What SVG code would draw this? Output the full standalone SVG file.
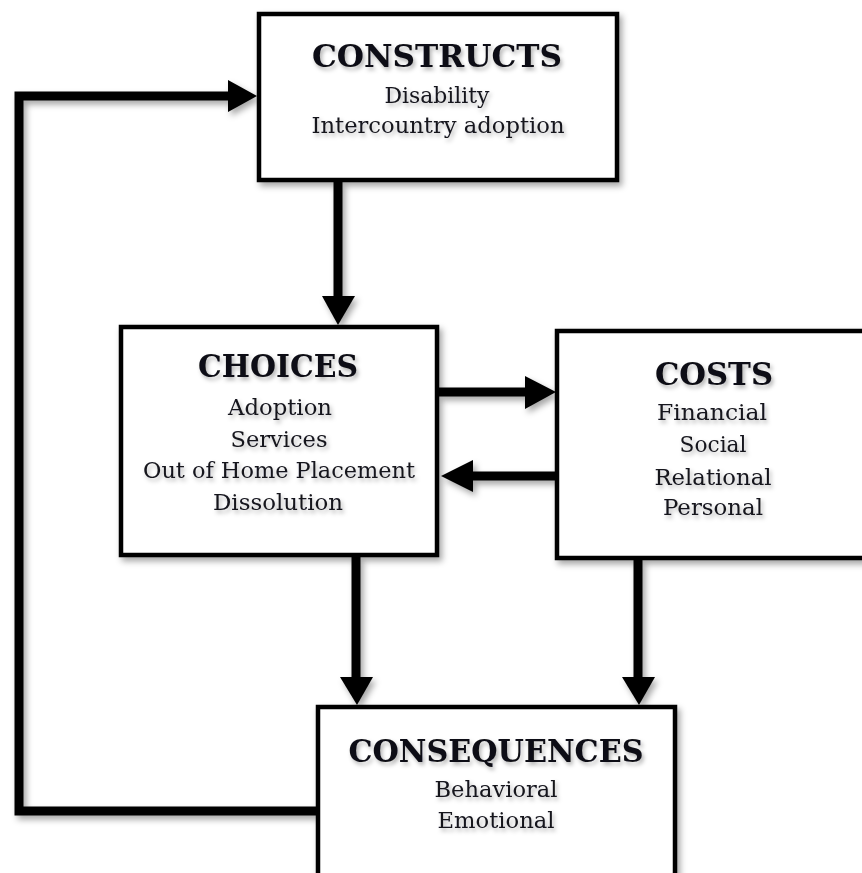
<svg xmlns="http://www.w3.org/2000/svg" width="862" height="873" viewBox="0 0 862 873">
  <style>
    .box { fill: #ffffff; stroke: #000000; stroke-width: 4.5; filter: url(#shadow); }
    .title { font-family: "DejaVu Serif", "Liberation Serif", serif; font-weight: bold; font-size: 31px; fill: #0d0d14; text-anchor: middle; filter: url(#tshadow); }
    .item { font-family: "DejaVu Serif", "Liberation Serif", serif; font-size: 22.5px; fill: #14141c; text-anchor: middle; filter: url(#tshadow); }
    .wire { fill: none; stroke: #000000; stroke-width: 9; stroke-linejoin: miter; }
    .head { fill: #000000; }
    #connectors { filter: url(#shadow); }
  </style>
  <defs>
    <filter id="shadow" x="-10%" y="-10%" width="130%" height="130%">
      <feDropShadow dx="3" dy="4" stdDeviation="3" flood-color="#000000" flood-opacity="0.35"/>
    </filter>
    <filter id="tshadow" x="-10%" y="-30%" width="130%" height="170%">
      <feDropShadow dx="2" dy="3" stdDeviation="2" flood-color="#000000" flood-opacity="0.3"/>
    </filter>
  </defs>

  <rect width="862" height="873" fill="#ffffff"/>

  <!-- connectors -->
  <g id="connectors">
    <!-- CONSTRUCTS to CHOICES -->
    <path class="wire" d="M338 182 V298"/>
    <polygon class="head" points="322,296 355,296 338,325"/>
    <!-- CHOICES to COSTS -->
    <path class="wire" d="M439 392 H527"/>
    <polygon class="head" points="525,376 525,409 556,392"/>
    <!-- COSTS to CHOICES -->
    <path class="wire" d="M555 476 H471"/>
    <polygon class="head" points="473,460 473,492 441,476"/>
    <!-- CHOICES to CONSEQUENCES -->
    <path class="wire" d="M356 557 V679"/>
    <polygon class="head" points="340,677 373,677 357,705"/>
    <!-- COSTS to CONSEQUENCES -->
    <path class="wire" d="M638 560 V679"/>
    <polygon class="head" points="622,677 655,677 639,705"/>
    <!-- CONSEQUENCES back to CONSTRUCTS -->
    <path class="wire" d="M316 811 H19 V96 H230"/>
    <polygon class="head" points="228,80 228,112 257,96"/>
  </g>

  <!-- nodes -->
  <g id="constructs">
    <rect class="box" x="259" y="14" width="358" height="166"/>
    <text class="title" x="437" y="67" textLength="250" lengthAdjust="spacingAndGlyphs">CONSTRUCTS</text>
    <text class="item" x="437" y="103" textLength="105" lengthAdjust="spacingAndGlyphs">Disability</text>
    <text class="item" x="438" y="133" textLength="253" lengthAdjust="spacingAndGlyphs">Intercountry adoption</text>
  </g>

  <g id="choices">
    <rect class="box" x="121" y="327" width="316" height="228"/>
    <text class="title" x="278" y="377" textLength="160" lengthAdjust="spacingAndGlyphs">CHOICES</text>
    <text class="item" x="280" y="415" textLength="104" lengthAdjust="spacingAndGlyphs">Adoption</text>
    <text class="item" x="279" y="447" textLength="97" lengthAdjust="spacingAndGlyphs">Services</text>
    <text class="item" x="279" y="478" textLength="272" lengthAdjust="spacingAndGlyphs">Out of Home Placement</text>
    <text class="item" x="278" y="510" textLength="130" lengthAdjust="spacingAndGlyphs">Dissolution</text>
  </g>

  <g id="costs">
    <rect class="box" x="557" y="331" width="330" height="227"/>
    <text class="title" x="714" y="385" textLength="118" lengthAdjust="spacingAndGlyphs">COSTS</text>
    <text class="item" x="712" y="420" textLength="110" lengthAdjust="spacingAndGlyphs">Financial</text>
    <text class="item" x="713" y="452" textLength="67" lengthAdjust="spacingAndGlyphs">Social</text>
    <text class="item" x="713" y="485" textLength="117" lengthAdjust="spacingAndGlyphs">Relational</text>
    <text class="item" x="713" y="515" textLength="100" lengthAdjust="spacingAndGlyphs">Personal</text>
  </g>

  <g id="consequences">
    <rect class="box" x="318" y="707" width="357" height="200"/>
    <text class="title" x="496" y="762" textLength="295" lengthAdjust="spacingAndGlyphs">CONSEQUENCES</text>
    <text class="item" x="496" y="797" textLength="123" lengthAdjust="spacingAndGlyphs">Behavioral</text>
    <text class="item" x="496" y="828" textLength="117" lengthAdjust="spacingAndGlyphs">Emotional</text>
  </g>
</svg>
